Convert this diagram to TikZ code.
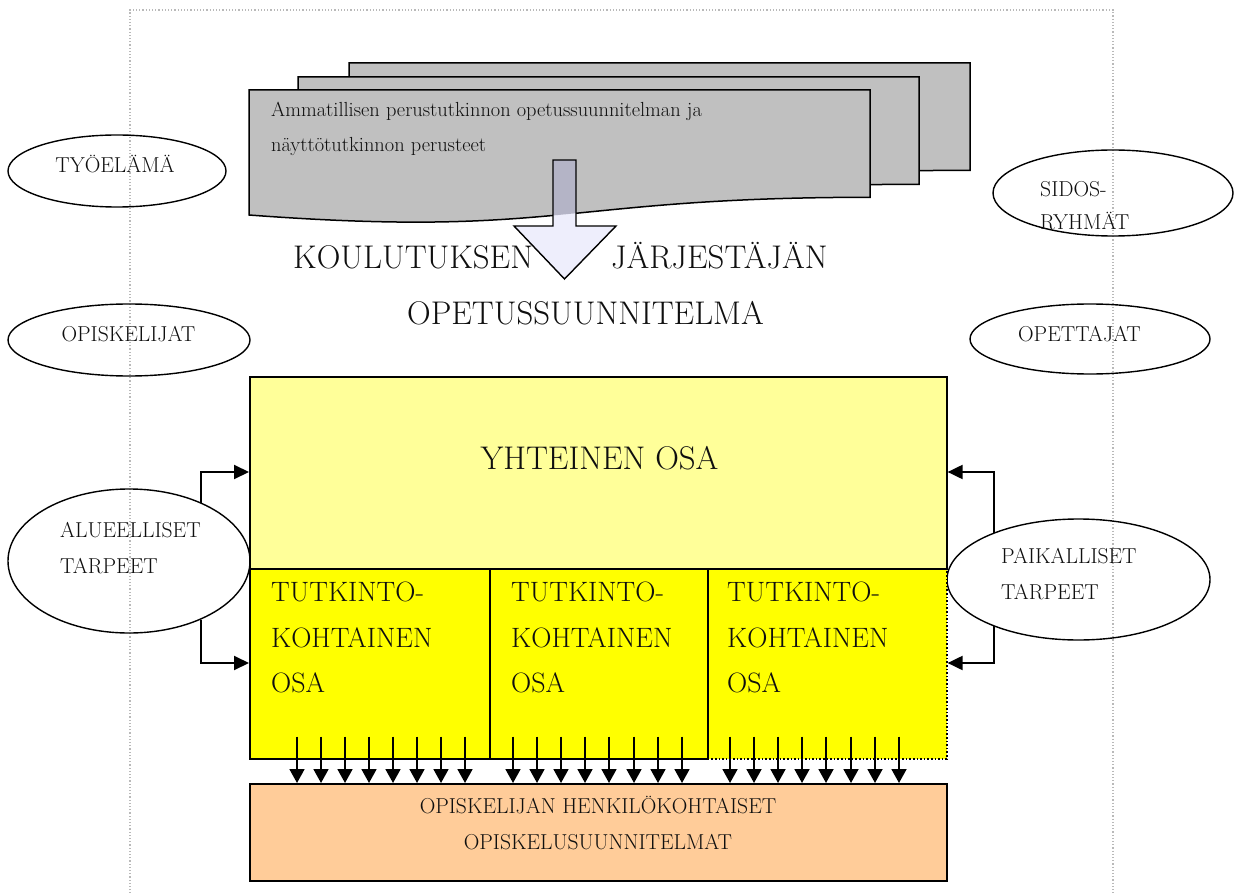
\documentclass[tikz,border=0pt]{standalone}
\usetikzlibrary{arrows.meta,shapes.geometric,calc}
\definecolor{docgray}{RGB}{192,192,192}
\definecolor{lyellow}{RGB}{255,255,153}
\definecolor{byellow}{RGB}{255,255,0}
\definecolor{peach}{RGB}{255,204,153}
\definecolor{arrowlav}{RGB}{238,238,252}
\definecolor{arrowdark}{RGB}{180,180,198}
\definecolor{bordergray}{RGB}{185,185,185}
\definecolor{ink}{RGB}{15,15,15}
\begin{document}
\begin{tikzpicture}[x=1pt,y=-1pt,
  oval/.style={draw,ellipse,line width=1.4pt,inner sep=0pt},
  blk/.style={draw,line width=1.6pt,inner sep=0pt,anchor=north west},
  conn/.style={line width=2pt,-{Triangle[length=15pt,width=14pt]}},
  down/.style={line width=1.8pt,-{Triangle[length=14pt,width=15pt]}},
  docst/.style={draw,fill=docgray,line width=1.5pt},
  txt/.style={inner sep=0pt,text=ink},
  small/.style={font=\fontsize{20.4}{24}\selectfont},
  mid/.style={font=\fontsize{21.6}{26}\selectfont},
  tkf/.style={font=\fontsize{28}{33}\selectfont},
  big/.style={font=\fontsize{32.8}{38}\selectfont}
]
\useasboundingbox (0,0) rectangle (1241,893);

% page border
\draw[bordergray, dotted, line width=1.2pt] (130,900) -- (130,10) -- (1113,10) -- (1113,900);

% document stack
\foreach \dx/\dy in {100/-27, 49/-13, 0/0} {
  \path[docst, shift={(\dx,\dy)}] (249,90) -- (870,90) -- (870,197.3)
    .. controls (559.5,197.3) and (559.5,238.2) .. (249,215) -- cycle;
}

% block arrow
\fill[arrowlav] (553,160) -- (576,160) -- (576,226) -- (616,226) -- (564.5,279) -- (514,226) -- (553,226) -- cycle;
\begin{scope}
  \clip (249,90) -- (870,90) -- (870,197.3)
    .. controls (559.5,197.3) and (559.5,238.2) .. (249,215) -- cycle;
  \fill[arrowdark] (553,160) rectangle (576,240);
\end{scope}
\draw[line width=1.4pt, line join=miter] (553,160) -- (576,160) -- (576,226) -- (616,226) -- (564.5,279) -- (514,226) -- (553,226) -- cycle;

\node[txt, small, anchor=base west] (doct1) at (271,117) {Ammatillisen perustutkinnon opetussuunnitelman ja};
\node[txt, small, anchor=base west] (doct2) at (271,152) {näyttötutkinnon perusteet};

% titles
\node[txt, big, anchor=base west] (kou) at (293,269) {KOULUTUKSEN};
\node[txt, big, anchor=base west] (jar) at (611,269) {JÄRJESTÄJÄN};
\node[txt, big, anchor=base] (ops) at (585.5,324) {OPETUSSUUNNITELMA};

% ellipses
\node[oval, minimum width=218pt, minimum height=72pt] (tyo) at (117,171) {};
\node[oval, minimum width=240pt, minimum height=86pt] (sid) at (1113,193) {};
\node[oval, minimum width=242pt, minimum height=72pt] (opi) at (129,340) {};
\node[oval, minimum width=240pt, minimum height=70pt] (ope) at (1090,339) {};
\node[oval, minimum width=242pt, minimum height=144pt] (alue) at (129,561) {};
\node[oval, minimum width=263pt, minimum height=121pt] (paik) at (1078.5,579.5) {};

\node[txt, mid, anchor=base] (tyot) at (115,173) {TYÖELÄMÄ};
\node[txt, mid, anchor=base west] (sidt1) at (1040,197) {SIDOS-};
\node[txt, mid, anchor=base west] (sidt2) at (1040,230) {RYHMÄT};
\node[txt, mid, anchor=base] (opit) at (128.5,341) {OPISKELIJAT};
\node[txt, mid, anchor=base] (opet) at (1079.5,341) {OPETTAJAT};
\node[txt, mid, anchor=base west] (aluet1) at (60,537) {ALUEELLISET};
\node[txt, mid, anchor=base west] (aluet2) at (60,573) {TARPEET};
\node[txt, mid, anchor=base west] (paikt1) at (1001,563) {PAIKALLISET};
\node[txt, mid, anchor=base west] (paikt2) at (1001,599) {TARPEET};

% boxes
\node[blk, fill=byellow, dotted, minimum width=239pt, minimum height=190pt] (tk3) at (707,568) {};
\node[blk, fill=byellow, minimum width=240pt, minimum height=190pt] (tk1) at (249,568) {};
\node[blk, fill=byellow, minimum width=218pt, minimum height=190pt] (tk2) at (489,568) {};
\node[blk, fill=lyellow, minimum width=697pt, minimum height=192pt] (yht) at (249,376) {};
\node[blk, fill=peach, minimum width=697pt, minimum height=97pt] (hops) at (249,783) {};

\node[txt, big, anchor=base] (yhtt) at (599.5,469) {YHTEINEN OSA};
\foreach \bx/\nm in {271/a, 511/b, 727/c} {
  \node[txt, tkf, anchor=base west] (tt1\nm) at (\bx,601) {TUTKINTO-};
  \node[txt, tkf, anchor=base west] (tt2\nm) at (\bx,647) {KOHTAINEN};
  \node[txt, tkf, anchor=base west] (tt3\nm) at (\bx,692) {OSA};
}
\node[txt, mid, anchor=base] (hopst1) at (598,813) {OPISKELIJAN HENKILÖKOHTAISET};
\node[txt, mid, anchor=base] (hopst2) at (598,849) {OPISKELUSUUNNITELMAT};

% side connectors
\draw[conn] (alue.39) |- (yht.west |- 0,472);
\draw[conn] (alue.-39) |- (tk1.west |- 0,663);
\draw[conn] (paik.151) |- (yht.east |- 0,472);
\draw[conn] (paik.209) |- (tk3.east |- 0,663);

% down arrows
\foreach \x in {297,321,345,369,393,417,441,465} {
  \draw[down] ($(\x,0 |- tk1.south)+(0,-23)$) -- (\x,0 |- hops.north);
}
\foreach \x in {513,537,561,585,609,634,658,682} {
  \draw[down] ($(\x,0 |- tk2.south)+(0,-23)$) -- (\x,0 |- hops.north);
}
\foreach \x in {730,754,778,802,826,851,875,899} {
  \draw[down] ($(\x,0 |- tk3.south)+(0,-23)$) -- (\x,0 |- hops.north);
}
\end{tikzpicture}
\end{document}
